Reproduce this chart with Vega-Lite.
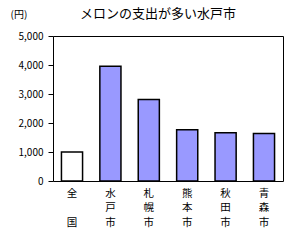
{
  "$schema": "https://vega.github.io/schema/vega-lite/v6.json",
  "width": 230,
  "height": 145,
  "autosize": "none",
  "padding": {"left": 53, "top": 36, "right": 25, "bottom": 70},
  "background": "white",
  "title": {
    "text": "メロンの支出が多い水戸市",
    "font": "Noto Sans CJK JP",
    "fontSize": 13,
    "fontWeight": "normal",
    "color": "black",
    "anchor": "middle",
    "dx": -10,
    "offset": -12
  },
  "data": {
    "values": [
      {"city": "全国", "value": 1000, "type": "national"},
      {"city": "水戸市", "value": 3960, "type": "city"},
      {"city": "札幌市", "value": 2810, "type": "city"},
      {"city": "熊本市", "value": 1770, "type": "city"},
      {"city": "秋田市", "value": 1665, "type": "city"},
      {"city": "青森市", "value": 1635, "type": "city"}
    ]
  },
  "config": {
    "view": {"stroke": "black", "strokeWidth": 1},
    "font": "Noto Sans CJK JP"
  },
  "mark": {"type": "bar", "stroke": "black", "strokeWidth": 1.5},
  "encoding": {
    "x": {
      "field": "city",
      "type": "nominal",
      "sort": null,
      "scale": {"paddingInner": 0.45, "paddingOuter": 0.22},
      "axis": {
        "title": null,
        "labelAngle": 0,
        "ticks": false,
        "domain": false,
        "labelFont": "Noto Sans CJK JP",
        "labelFontSize": 10.5,
        "labelColor": "black",
        "labelPadding": 7,
        "labelLineHeight": 14.5,
        "labelExpr": "length(datum.value) == 2 ? [slice(datum.value, 0, 1), '\u200b', slice(datum.value, 1)] : split(datum.value, '')"
      }
    },
    "y": {
      "field": "value",
      "type": "quantitative",
      "scale": {"domain": [0, 5000]},
      "axis": {
        "title": "(円)",
        "titleAngle": 0,
        "titleX": -43,
        "titleY": -22,
        "titleAlign": "left",
        "titleBaseline": "middle",
        "titleFont": "Noto Sans CJK JP",
        "titleFontSize": 10,
        "titleFontWeight": "normal",
        "titleColor": "black",
        "values": [0, 1000, 2000, 3000, 4000, 5000],
        "format": ",d",
        "grid": false,
        "domain": false,
        "tickColor": "black",
        "tickSize": 5,
        "labelPadding": 5,
        "labelFont": "Noto Sans CJK JP",
        "labelFontSize": 10,
        "labelColor": "black"
      }
    },
    "fill": {
      "field": "type",
      "type": "nominal",
      "scale": {"domain": ["national", "city"], "range": ["white", "#9999ff"]},
      "legend": null
    }
  }
}
